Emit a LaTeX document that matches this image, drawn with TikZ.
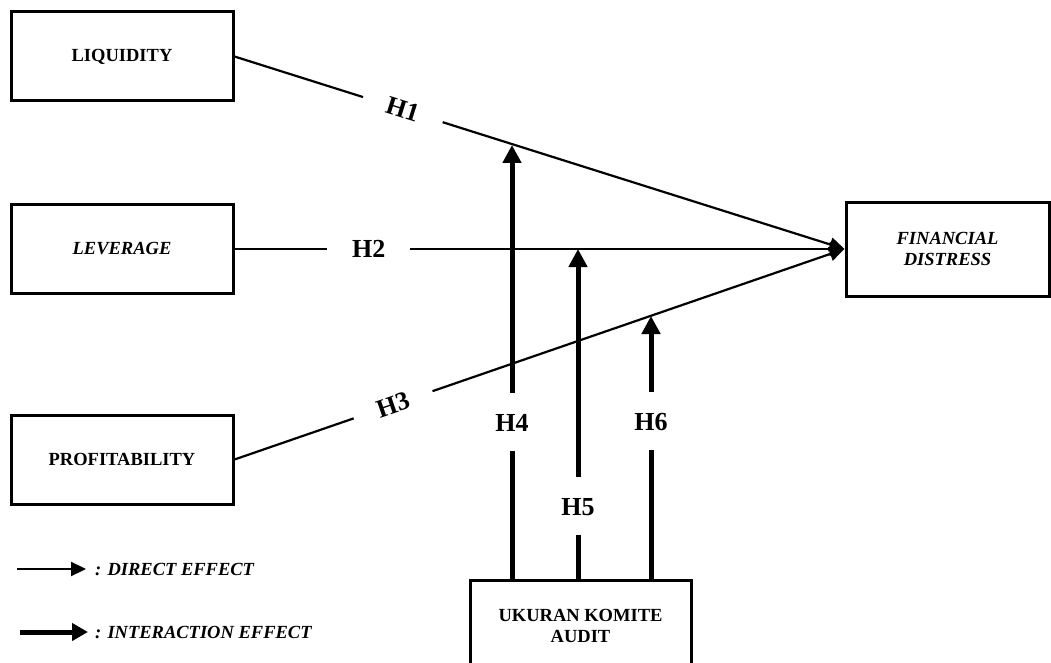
\documentclass[tikz,border=0pt]{standalone}
\usepackage{fontspec}
\setmainfont{Liberation Serif}
\usetikzlibrary{arrows.meta}

\begin{document}
\begin{tikzpicture}[x=1pt,y=-1pt,
    var/.style={draw,line width=3pt,minimum width=222pt,minimum height=89pt,inner sep=0pt,align=center,font=\fontsize{18.5}{21}\selectfont\bfseries},
    direct/.style={line width=2.2pt,-{Triangle[length=15pt,width=14pt]}},
    inter/.style={line width=5pt,-{Triangle[length=18pt,width=18pt]}},
    hyp/.style={fill=white,sloped,inner xsep=25pt,inner ysep=1pt,font=\fontsize{26}{26}\selectfont\bfseries},
    hypv/.style={fill=white,inner xsep=1pt,inner ysep=20pt,text height=18pt,text depth=0pt,font=\fontsize{26}{26}\selectfont\bfseries},
    legend/.style={anchor=west,inner sep=0pt,font=\fontsize{18.5}{21}\selectfont\bfseries\itshape}]
    \useasboundingbox (0,0) rectangle (1051,663);
    % variables
    \node[var] (liq) at (122,56.5) {LIQUIDITY};
    \node[var] (lev) at (122,249) {\itshape LEVERAGE};
    \node[var] (prof) at (122,459.5) {PROFITABILITY};
    \node[var,minimum width=203pt,minimum height=94pt,font=\fontsize{18.5}{21}\selectfont\bfseries\itshape] (fd) at (947.5,249) {FINANCIAL\\DISTRESS};
    \node[var,minimum width=221pt,minimum height=92pt] (uka) at (580.5,626) {UKURAN KOMITE\\AUDIT};
    % direct effects
    \path[direct] (liq.east) edge node[hyp,pos=0.276] {H1} (fd.west);
    \path[direct] (lev.east) edge node[hyp,pos=0.22] {H2} (fd.west);
    \path[direct] (prof.east) edge node[hyp,pos=0.26] {H3} (fd.west);
    % interaction effects
    \coordinate (t4) at (512,145);
    \coordinate (t5) at (578,249);
    \coordinate (t6) at (651,316);
    \path[inter] (uka.north -| t4) edge node[hypv,pos=0.36] {H4} (t4);
    \path[inter] (uka.north -| t5) edge node[hypv,pos=0.22] {H5} (t5);
    \path[inter] (uka.north -| t6) edge node[hypv,pos=0.6] {H6} (t6);
    % legend
    \coordinate (d0) at (17,569);
    \coordinate (d1) at (86,569);
    \coordinate (i0) at (20,632);
    \coordinate (i1) at (88,632);
    \draw[direct] (d0) -- (d1);
    \draw[inter,-{Triangle[length=16pt,width=17pt]}] (i0) -- (i1);
    \node[legend] (ldir) at (95,569) {: DIRECT EFFECT};
    \node[legend] (lint) at (95,632) {: INTERACTION EFFECT};
\end{tikzpicture}
\end{document}
